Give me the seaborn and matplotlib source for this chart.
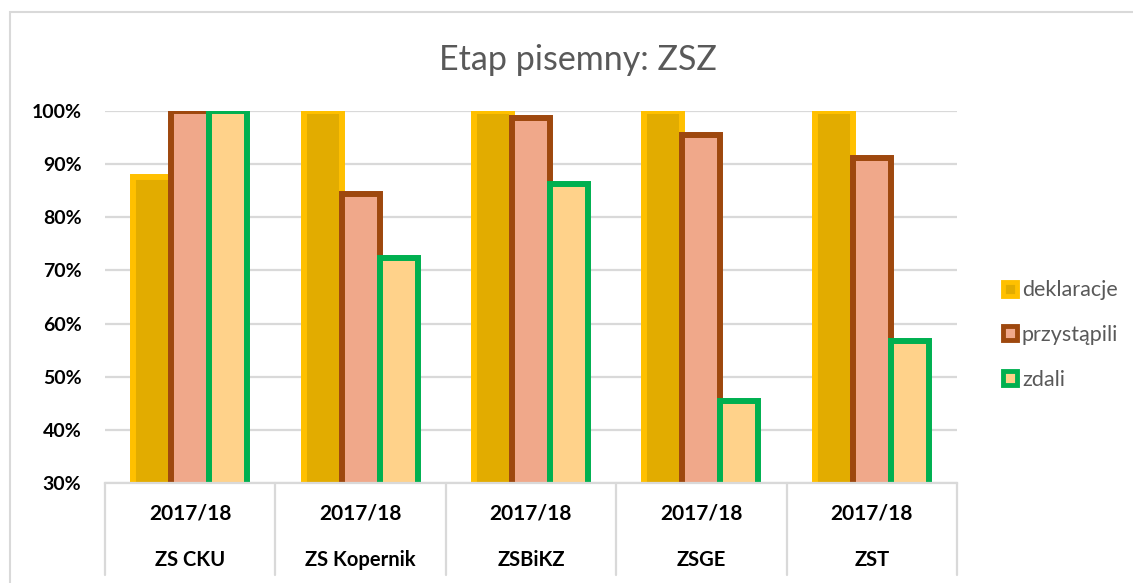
import numpy as np
import pandas as pd
import matplotlib
matplotlib.use('Agg')
import matplotlib.pyplot as plt
import matplotlib.transforms as mtransforms
from matplotlib.lines import Line2D
from matplotlib.patches import Rectangle
import seaborn as sns

# dane (w %)
SZKOLY = ['ZS CKU', 'ZS Kopernik', 'ZSBiKZ', 'ZSGE', 'ZST']
ROK = '2017/18'
SERIE = ['deklaracje', 'przystąpili', 'zdali']
DEKLARACJE = [87.5, 100, 100, 100, 100]
PRZYSTAPILI = [100, 84.4, 98.7, 95.4, 91.1]
ZDALI = [100, 72.4, 86.2, 45.5, 56.7]
Y_TICKS = [30, 40, 50, 60, 70, 80, 90, 100]

FILL = ['#E2AC00', '#F0A88A', '#FFD28A']
EDGE = ['#FFC000', '#9E480E', '#00B050']
GRID = '#D9D9D9'

sns.set_theme(style='white')
plt.rcParams['font.family'] = ['Lato', 'DejaVu Sans']

df = pd.DataFrame({
    'szkola': SZKOLY * 3,
    'seria': [s for s in SERIE for _ in SZKOLY],
    'wartosc': DEKLARACJE + PRZYSTAPILI + ZDALI,
})

fig = plt.figure(figsize=(11.33, 5.83), dpi=100)
ax = fig.add_axes([105 / 1133, 1 - 483 / 583, (957 - 105) / 1133, (483 - 111) / 583])

sns.barplot(data=df, x='szkola', y='wartosc', hue='seria', hue_order=SERIE,
            palette=FILL, saturation=1, width=0.67, ax=ax, legend=False)

for cont, ec in zip(ax.containers, EDGE):
    for bar in cont:
        bar.set_edgecolor(ec)
        bar.set_linewidth(4.3)

ax.set_ylim(30, 100)
ax.set_xlim(-0.5, len(SZKOLY) - 0.5)
ax.set_yticks(Y_TICKS)
ax.set_yticklabels([f'{v}%' for v in Y_TICKS], fontsize=14, fontweight='bold', color='black')
ax.tick_params(axis='y', length=0, pad=17)
ax.set_xticks([])
ax.set_xlabel('')
ax.set_ylabel('')
ax.yaxis.grid(True, color=GRID, lw=1.6)
ax.set_axisbelow(True)
for side in ['left', 'top', 'right']:
    ax.spines[side].set_visible(False)
ax.spines['bottom'].set_color(GRID)
ax.spines['bottom'].set_linewidth(1.6)

# dwupoziomowe etykiety osi X
trans = mtransforms.blended_transform_factory(ax.transData, ax.transAxes)
for i, name in enumerate(SZKOLY):
    ax.text(i, -0.083, ROK, transform=trans, ha='center', va='center',
            fontsize=15, fontweight='bold', color='black')
    ax.text(i, -0.207, name, transform=trans, ha='center', va='center',
            fontsize=14.5, fontweight='bold', color='black')
for xs in np.arange(-0.5, len(SZKOLY), 1.0):
    ax.plot([xs, xs], [0, -0.247], transform=trans, color=GRID, lw=1.6, clip_on=False)

fig.text(578 / 1133, 1 - 60 / 583, 'Etap pisemny: ZSZ', ha='center', va='center',
         fontsize=24.5, color='#595959')

handles = [Line2D([], [], linestyle='', marker='s', markersize=9.5, markeredgewidth=3.5,
                  markerfacecolor=f, markeredgecolor=e) for f, e in zip(FILL, EDGE)]
leg = fig.legend(handles, SERIE, loc='center left', bbox_to_anchor=(980 / 1133, 1 - 335 / 583),
                 frameon=False, fontsize=15.5, labelspacing=1.15, handletextpad=0.05,
                 handlelength=1.0)
for t in leg.get_texts():
    t.set_color('#595959')

# ramka obszaru wykresu
fig.add_artist(Rectangle((10 / 1133, -0.5), 2, 0.5 + 1 - 12 / 583, transform=fig.transFigure,
                         fill=False, edgecolor=GRID, lw=1.5))

fig.savefig('out.png', dpi=100)
